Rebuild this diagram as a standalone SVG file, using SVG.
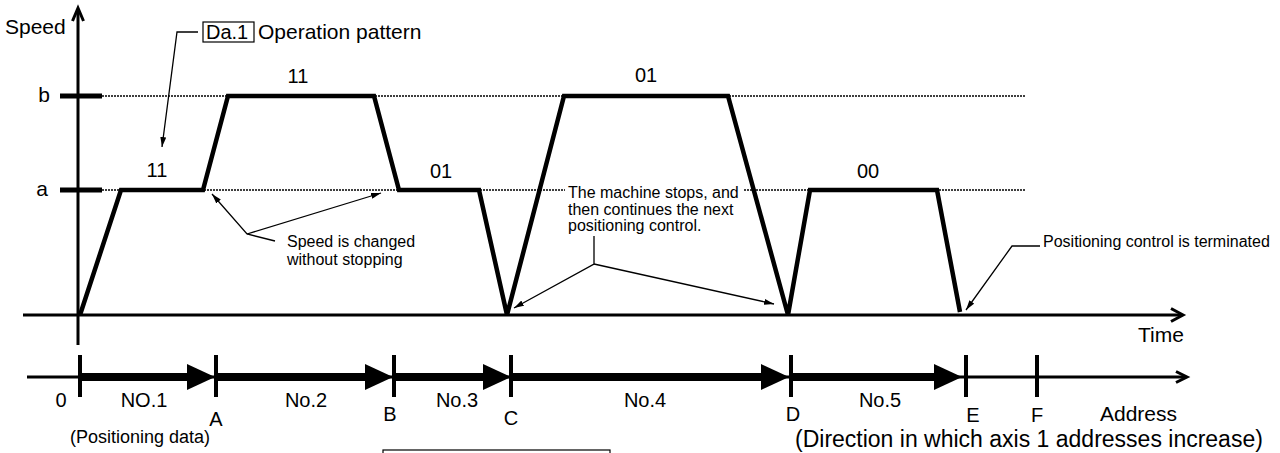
<svg xmlns="http://www.w3.org/2000/svg" width="1280" height="453" viewBox="0 0 1280 453">
<defs>
<marker id="ah" markerWidth="10" markerHeight="6" refX="10" refY="3" orient="auto" markerUnits="userSpaceOnUse"><path d="M0,0 L10,3 L0,6 z" fill="#000"/></marker>
</defs>
<style>
text{font-family:"Liberation Sans",Arial,sans-serif;fill:#000}
.big{font-size:20px}
.lg{font-size:21px}
.sm{font-size:16px}
.mid{text-anchor:middle}
.axis{stroke:#000;stroke-width:3;fill:none}
.tick{stroke:#000;stroke-width:5;fill:none}
.dot{stroke:#000;stroke-width:1.6;stroke-dasharray:2 1;fill:none}
.prof{stroke:#000;stroke-width:4.5;fill:none;stroke-linejoin:miter}
.lead{stroke:#000;stroke-width:1.3;fill:none}
.shaft{stroke:#000;stroke-width:8;fill:none}
.vt{stroke:#000;stroke-width:4;fill:none}
</style>
<rect x="0" y="0" width="1280" height="453" fill="#fff"/>

<g id="levels">
<line class="dot" x1="102" y1="96" x2="1025" y2="96"/>
<line class="dot" x1="102" y1="190" x2="1025" y2="190"/>
<line class="tick" x1="60" y1="96" x2="102" y2="96"/>
<line class="tick" x1="60" y1="190" x2="102" y2="190"/>
<text class="lg mid" x="44" y="102">b</text>
<text class="lg mid" x="42" y="196">a</text>
</g>

<g id="speed-axis">
<line class="axis" x1="78" y1="345" x2="78" y2="9"/>
<polyline class="axis" stroke-width="2.5" points="72.5,21 78,8 83.5,21"/>
<text class="lg" x="5" y="34">Speed</text>
</g>

<g id="time-axis">
<line class="axis" x1="23" y1="315" x2="1182" y2="315"/>
<polyline class="axis" stroke-width="2.5" points="1171,308.5 1183,315 1171,321.5"/>
<text class="lg" x="1138" y="342">Time</text>
</g>

<g id="note-machine-bg">
<rect x="565" y="182" width="178" height="56" fill="#fff"/>
</g>

<g id="profile">
<polyline class="prof" points="80,315 121,190 203,190 228,96 374,96 399,190 479,190 507,315 564,96 728,96 788,315 810,190 937,190 960,312"/>
</g>

<g id="pattern-labels">
<text class="big mid" x="157" y="177">11</text>
<text class="big mid" x="298" y="83">11</text>
<text class="big mid" x="441" y="178">01</text>
<text class="big mid" x="646" y="82">01</text>
<text class="big mid" x="868" y="178">00</text>
</g>

<g id="title">
<rect x="203" y="22" width="51" height="20" fill="none" stroke="#000" stroke-width="1.2"/>
<text class="big" x="206" y="39">Da.1</text>
<text class="lg" x="258" y="39">Operation pattern</text>
</g>

<g id="note-speed">
<text class="sm" x="287" y="247">Speed is changed</text>
<text class="sm" x="287" y="265">without stopping</text>
</g>

<g id="note-machine">
<text class="sm" x="568" y="198">The machine stops, and</text>
<text class="sm" x="568" y="215">then continues the next</text>
<text class="sm" x="568" y="231">positioning control.</text>
</g>

<g id="note-terminated">
<text class="sm" x="1043" y="247">Positioning control is terminated</text>
</g>

<g id="connectors">
<polyline class="lead" points="198,32 177,32 162,147" marker-end="url(#ah)"/>
<polyline class="lead" points="275,241 247,234 212,194" marker-end="url(#ah)"/>
<line class="lead" x1="247" y1="234" x2="381" y2="193" marker-end="url(#ah)"/>
<polyline class="lead" points="594,236 594,264 514,308" marker-end="url(#ah)"/>
<line class="lead" x1="594" y1="264" x2="774" y2="304" marker-end="url(#ah)"/>
<polyline class="lead" points="1040,246 1012,246 966,310" marker-end="url(#ah)"/>
</g>

<g id="address-axis">
<line class="axis" stroke-width="2" x1="27" y1="377" x2="1186" y2="377"/>
<polyline class="axis" stroke-width="2" points="1176,371.5 1187,377 1176,382.5"/>
<line class="vt" x1="80" y1="355" x2="80" y2="397"/>
<line class="vt" x1="216" y1="355" x2="216" y2="397"/>
<line class="vt" x1="394" y1="355" x2="394" y2="397"/>
<line class="vt" x1="511" y1="355" x2="511" y2="397"/>
<line class="vt" x1="791" y1="355" x2="791" y2="397"/>
<line class="vt" x1="966" y1="355" x2="966" y2="397"/>
<line class="vt" x1="1037" y1="355" x2="1037" y2="397"/>
</g>

<g id="segment-1">
<line class="shaft" x1="80" y1="377" x2="189" y2="377"/>
<polygon points="187,364 215,377 187,390"/>
<text class="big mid" x="144" y="407">NO.1</text>
</g>
<g id="segment-2">
<line class="shaft" x1="216" y1="377" x2="367" y2="377"/>
<polygon points="365,364 393,377 365,390"/>
<text class="big mid" x="306" y="407">No.2</text>
</g>
<g id="segment-3">
<line class="shaft" x1="394" y1="377" x2="485" y2="377"/>
<polygon points="483,364 511,377 483,390"/>
<text class="big mid" x="457" y="407">No.3</text>
</g>
<g id="segment-4">
<line class="shaft" x1="511" y1="377" x2="763" y2="377"/>
<polygon points="761,364 789,377 761,390"/>
<text class="big mid" x="645" y="407">No.4</text>
</g>
<g id="segment-5">
<line class="shaft" x1="791" y1="377" x2="936" y2="377"/>
<polygon points="934,364 962,377 934,390"/>
<text class="big mid" x="880" y="407">No.5</text>
</g>

<g id="address-labels">
<text class="big mid" x="61" y="407">0</text>
<text class="big mid" x="216" y="426">A</text>
<text class="big mid" x="390" y="421">B</text>
<text class="big mid" x="511" y="425">C</text>
<text class="big mid" x="793" y="421">D</text>
<text class="big mid" x="973" y="422">E</text>
<text class="big mid" x="1037" y="422">F</text>
<text class="lg" x="1100" y="421">Address</text>
<text class="mid" font-size="18" x="140" y="443">(Positioning data)</text>
<text font-size="23" x="795" y="447">(Direction in which axis 1 addresses increase)</text>
</g>

<g id="bottom-box">
<rect x="383" y="450" width="227" height="20" fill="none" stroke="#000" stroke-width="1.2"/>
</g>
</svg>
